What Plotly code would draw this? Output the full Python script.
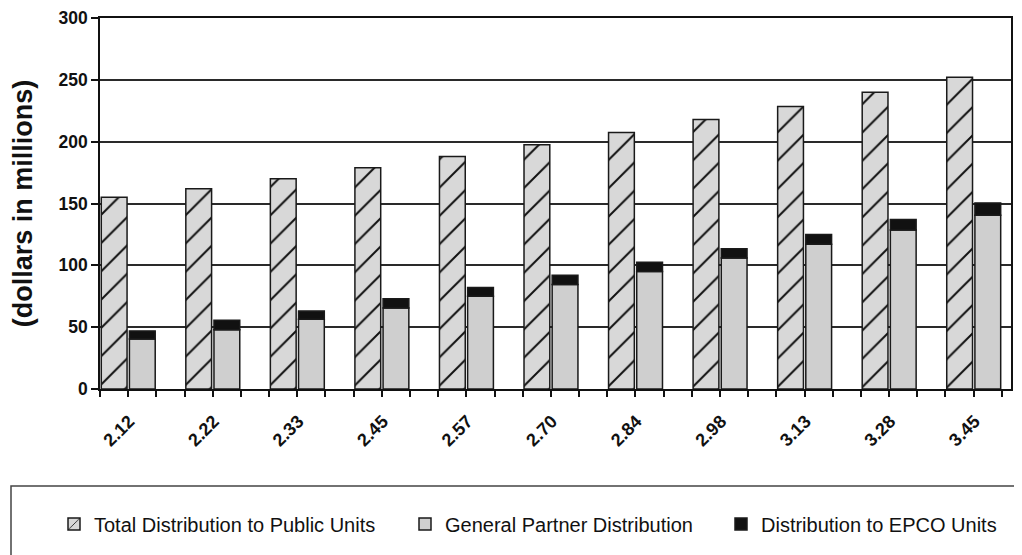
import plotly.graph_objects as go

# ---- data ----
categories = ["2.12", "2.22", "2.33", "2.45", "2.57", "2.70", "2.84", "2.98", "3.13", "3.28", "3.45"]
total_public = [155, 162, 170, 179, 188, 197.5, 207.5, 218, 228.5, 240, 252]
general_partner = [40.5, 48, 56.5, 65.5, 75, 84.5, 95, 106, 117, 128.5, 140.5]
epco_units = [6.5, 7.5, 6.5, 7.5, 7, 7.5, 7.5, 7.5, 8, 8.5, 10]

xpos = list(range(len(categories)))
FONT = "Liberation Sans, Arial, sans-serif"
BAR_W = 0.305

fig = go.Figure()

fig.add_trace(go.Bar(
    x=xpos, y=total_public, name="Total Distribution to Public Units",
    width=BAR_W, offset=-0.485,
    marker=dict(color="#d8d8d8",
                line=dict(color="#1a1a1a", width=1.5),
                pattern=dict(shape="/", fgcolor="#111111", bgcolor="#d8d8d8",
                             fgopacity=1, size=20, solidity=0.1,
                             fillmode="overlay")),
    legend="legend",
))
fig.add_trace(go.Bar(
    x=xpos, y=general_partner, name="General Partner Distribution",
    width=BAR_W, offset=-0.152,
    marker=dict(color="#cfcfcf", line=dict(color="#1a1a1a", width=1.5)),
    legend="legend2",
))
fig.add_trace(go.Bar(
    x=xpos, y=epco_units, base=general_partner, name="Distribution to EPCO Units",
    width=BAR_W, offset=-0.152,
    marker=dict(color="#111111", line=dict(color="#1a1a1a", width=1.5)),
    legend="legend3",
))

# plot area in page pixels: x 100..1011, y 18..389 (page has 8px body margin)
px_w = 1011 - 100
px_h = 389 - 18


def px2x(px):
    return (px - 100) / px_w


def px2y(py):
    return (389 - py) / px_h


legend_common = dict(orientation="h", yanchor="middle", xanchor="left",
                     bgcolor="rgba(0,0,0,0)", borderwidth=0,
                     font=dict(family=FONT, size=20, color="#111"))

fig.update_layout(
    width=1022, height=555,
    margin=dict(l=92, r=19, t=10, b=174, autoexpand=False),
    paper_bgcolor="white", plot_bgcolor="white",
    barmode="overlay",
    showlegend=True,
    legend=dict(x=px2x(54), y=px2y(524), **legend_common),
    legend2=dict(x=px2x(405), y=px2y(524), **legend_common),
    legend3=dict(x=px2x(721), y=px2y(524), **legend_common),
    xaxis=dict(
        range=[-0.5, 10.275],
        tickmode="array", tickvals=xpos, ticktext=categories,
        tickangle=-45, ticks="",
        tickfont=dict(family=FONT, size=18, color="#111", weight="bold"),
        showgrid=False, zeroline=False,
        showline=True, linecolor="#111", linewidth=1.5, mirror=True,
        minor=dict(ticks="outside", tick0=-0.5, dtick=1/3, ticklen=6,
                   tickcolor="#111", tickwidth=1.5, showgrid=False),
        ticklabelstandoff=13,
        ticklabelshift=-13,
    ),
    yaxis=dict(
        range=[0, 300], dtick=50,
        ticks="outside", ticklen=7, tickcolor="#111", tickwidth=1.5,
        tickfont=dict(family=FONT, size=17.5, color="#111", weight="bold"),
        showgrid=True, gridcolor="#2a2a2a", gridwidth=1.5,
        zeroline=False,
        showline=True, linecolor="#111", linewidth=1.5, mirror=True,
        title=dict(text="(dollars in millions)", standoff=27,
                   font=dict(family=FONT, size=27, color="#111", weight="bold")),
    ),
    font=dict(family=FONT, color="#111"),
    shapes=[dict(type="rect", xref="paper", yref="paper",
                 x0=px2x(11), x1=px2x(1040), y0=px2y(486), y1=px2y(575),
                 line=dict(color="#444", width=1.5), fillcolor="rgba(0,0,0,0)")],
)

fig.write_html("out.html")
